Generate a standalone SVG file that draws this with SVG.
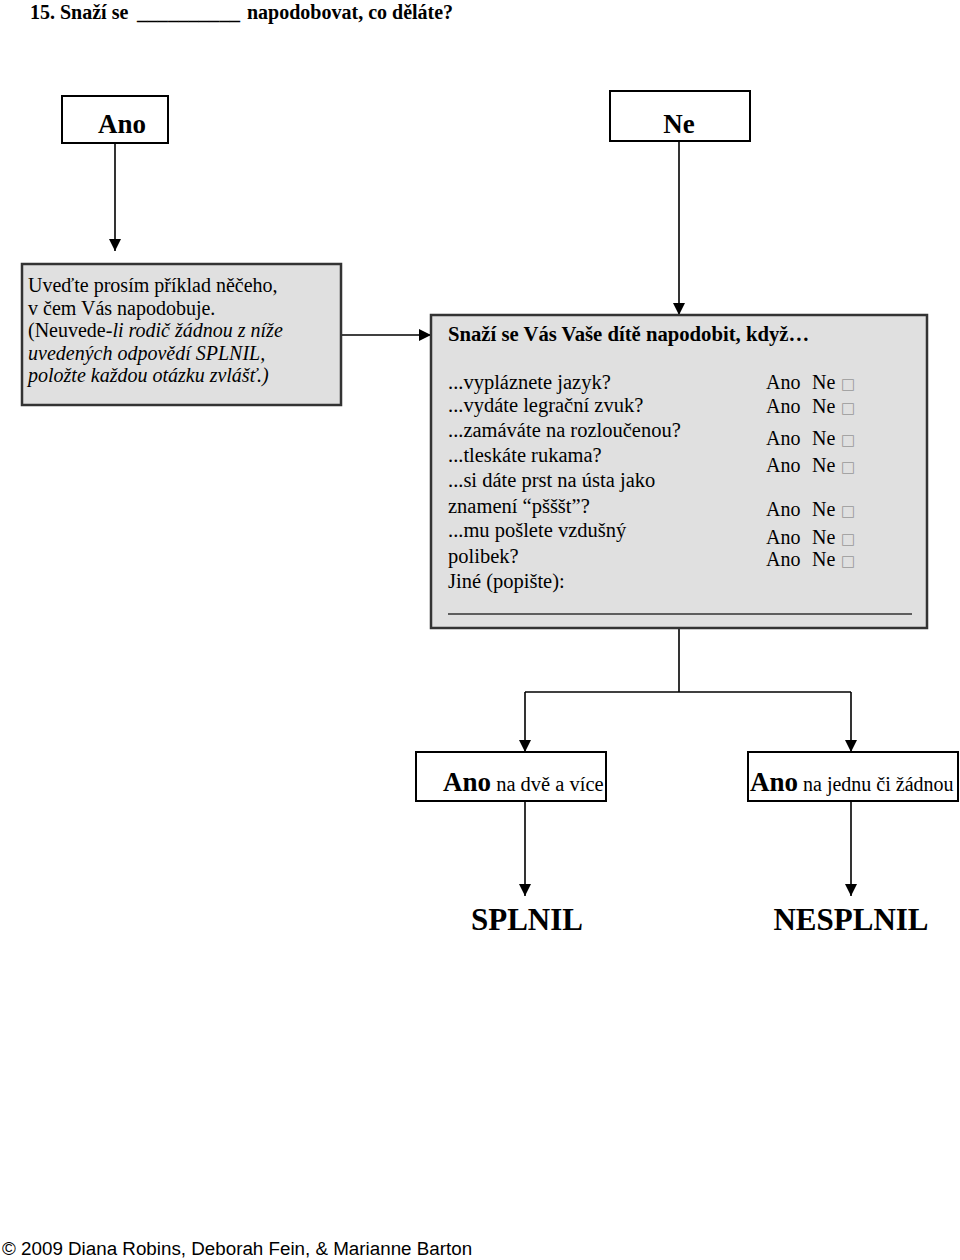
<svg xmlns="http://www.w3.org/2000/svg" width="960" height="1260" viewBox="0 0 960 1260">
<defs>
<marker id="ah" markerUnits="userSpaceOnUse" markerWidth="12" markerHeight="14" viewBox="0 0 12 14" refX="12" refY="6" orient="auto">
<path d="M0,0 L12,6 L0,12 Z" fill="#000"/>
</marker>
<style>
.serif{font-family:"Liberation Serif","Times New Roman",serif;fill:#000}
.b{font-weight:bold}
.box{fill:#fff;stroke:#000;stroke-width:2}
.gbox{fill:#e0e0e0;stroke:#333;stroke-width:2.5}
.con{fill:none;stroke:#000;stroke-width:1.6}
.arr{fill:none;stroke:#000;stroke-width:1.6;marker-end:url(#ah)}
.t20{font-size:20px}
.t205{font-size:20.5px}
.tofu{fill:#999;font-family:"DejaVu Sans",sans-serif;font-size:15px}
</style>
</defs>
<rect width="960" height="1260" fill="#fff"/>

<g id="title">
<text class="serif b" y="19" font-size="20"><tspan x="30">15. Snaží se</tspan><tspan x="137" textLength="103" lengthAdjust="spacingAndGlyphs">__________</tspan><tspan x="247">napodobovat, co děláte?</tspan></text>
</g>

<g id="connectors">
<line class="arr" x1="115" y1="143" x2="115" y2="251"/>
<line class="arr" x1="679" y1="141" x2="679" y2="315"/>
<line class="arr" x1="341" y1="335" x2="431" y2="335"/>
<polyline class="con" points="679,629 679,692"/>
<polyline class="arr" points="525,692 525,752"/>
<polyline class="con" points="525,692 851,692"/>
<polyline class="arr" points="851,692 851,752"/>
<line class="arr" x1="525" y1="801" x2="525" y2="896"/>
<line class="arr" x1="851" y1="801" x2="851" y2="896"/>
</g>

<g id="ano">
<rect class="box" x="62" y="96" width="106" height="47"/>
<text class="serif b" x="122" y="133" font-size="27" text-anchor="middle">Ano</text>
</g>

<g id="ne">
<rect class="box" x="610" y="91" width="140" height="50"/>
<text class="serif b" x="679" y="133" font-size="27" text-anchor="middle">Ne</text>
</g>

<g id="priklad">
<rect class="gbox" x="22" y="264" width="319" height="141"/>
<text class="serif t20" x="28" y="292">Uveďte prosím příklad něčeho,</text>
<text class="serif t20" x="28" y="314.5">v čem Vás napodobuje.</text>
<text class="serif t20" x="28" y="337">(Neuvede-<tspan font-style="italic">li rodič žádnou z níže</tspan></text>
<text class="serif t20" x="28" y="359.5" font-style="italic">uvedených odpovědí SPLNIL,</text>
<text class="serif t20" x="28" y="382" font-style="italic">položte každou otázku zvlášť.)</text>
</g>

<g id="otazky">
<rect class="gbox" x="431" y="315" width="496" height="313"/>
<text class="serif b" x="448" y="341" font-size="20.7">Snaží se Vás Vaše dítě napodobit, když…</text>
<g class="serif t205">
<text x="448" y="389">...vypláznete jazyk?</text>
<text x="448" y="412">...vydáte legrační zvuk?</text>
<text x="448" y="437">...zamáváte na rozloučenou?</text>
<text x="448" y="462">...tleskáte rukama?</text>
<text x="448" y="487">...si dáte prst na ústa jako</text>
<text x="448" y="513">znamení “pšššt”?</text>
<text x="448" y="537">...mu pošlete vzdušný</text>
<text x="448" y="563">polibek?</text>
<text x="448" y="588">Jiné (popište):</text>
</g>
<line x1="448" y1="614" x2="912" y2="614" stroke="#333" stroke-width="1.6"/>
<g class="serif t20">
<text x="766" y="389">Ano<tspan x="812">Ne</tspan><tspan x="841" class="tofu">□</tspan></text>
<text x="766" y="413">Ano<tspan x="812">Ne</tspan><tspan x="841" class="tofu">□</tspan></text>
<text x="766" y="445">Ano<tspan x="812">Ne</tspan><tspan x="841" class="tofu">□</tspan></text>
<text x="766" y="472">Ano<tspan x="812">Ne</tspan><tspan x="841" class="tofu">□</tspan></text>
<text x="766" y="516">Ano<tspan x="812">Ne</tspan><tspan x="841" class="tofu">□</tspan></text>
<text x="766" y="544">Ano<tspan x="812">Ne</tspan><tspan x="841" class="tofu">□</tspan></text>
<text x="766" y="566">Ano<tspan x="812">Ne</tspan><tspan x="841" class="tofu">□</tspan></text>
</g>
</g>

<g id="vice">
<rect class="box" x="416" y="752" width="190" height="49"/>
<text class="serif" x="443" y="791"><tspan class="b" font-size="27">Ano</tspan><tspan font-size="20.5"> na dvě a více</tspan></text>
</g>

<g id="jedna">
<rect class="box" x="748" y="752" width="210" height="49"/>
<text class="serif" x="750" y="791"><tspan class="b" font-size="27">Ano</tspan><tspan font-size="20"> na jednu či žádnou</tspan></text>
</g>

<g id="splnil">
<text class="serif b" x="527" y="930" font-size="31" text-anchor="middle">SPLNIL</text>
</g>

<g id="nesplnil">
<text class="serif b" x="851" y="930" font-size="31" text-anchor="middle">NESPLNIL</text>
</g>

<g id="copyright">
<text x="2" y="1255" font-family="Liberation Sans, Arial, sans-serif" font-size="18.8" fill="#000">© 2009 Diana Robins, Deborah Fein, &amp; Marianne Barton</text>
</g>
</svg>
